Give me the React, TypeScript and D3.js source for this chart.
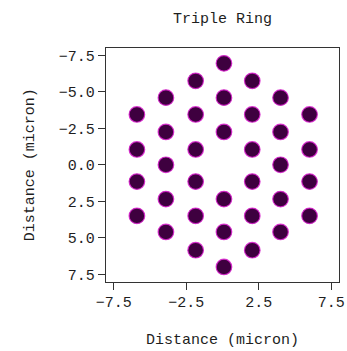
import React from "react";
import * as d3 from "d3";

// Dot centres (micron), row by row from the top of the plot
const dotX: number[] = [
  0.1,
  -1.85, 2.05,
  -3.9, 0.1, 4.0,
  -5.9, -1.85, 2.05, 6.0,
  -3.9, 0.1, 4.0,
  -5.9, -1.85, 2.05, 6.0,
  -3.9, 4.0,
  -5.9, -1.85, 2.05, 6.0,
  -3.9, 0.1, 4.0,
  -5.9, -1.85, 2.05, 6.0,
  -3.9, 0.1, 4.0,
  -1.85, 2.05,
  0.1,
];
const dotY: number[] = [
  -6.95,
  -5.75, -5.75,
  -4.6, -4.6, -4.6,
  -3.45, -3.45, -3.45, -3.45,
  -2.25, -2.25, -2.25,
  -1.05, -1.05, -1.05, -1.05,
  0.0, 0.0,
  1.15, 1.15, 1.15, 1.15,
  2.35, 2.35, 2.35,
  3.5, 3.5, 3.5, 3.5,
  4.6, 4.6, 4.6,
  5.85, 5.85,
  7.0,
];

const xTicks: number[] = [-7.5, -2.5, 2.5, 7.5];
const yTicks: number[] = [-7.5, -5.0, -2.5, 0.0, 2.5, 5.0, 7.5];

const title = "Triple Ring";
const xLabel = "Distance (micron)";
const yLabel = "Distance (micron)";

const W = 347;
const H = 351;
const plot = { left: 105.7, right: 339.3, top: 47.3, bottom: 282.3 };
const FONT = "'Liberation Mono', 'Courier New', monospace";
const TEXT = "#1e1e1e";

export default function App() {
  const x = d3.scaleLinear().domain([-8.05, 8.05]).range([plot.left, plot.right]);
  const y = d3.scaleLinear().domain([-8.05, 8.05]).range([plot.top, plot.bottom]);

  const fmt = d3.format(".1f");

  return (
    <svg
      width={W}
      height={H}
      style={{ position: "absolute", left: 0, top: 0, background: "#ffffff" }}
    >
      <text
        x={(plot.left + plot.right) / 2}
        y={23}
        textAnchor="middle"
        fontFamily={FONT}
        fontSize={15}
        fill={TEXT}
      >
        {title}
      </text>

      {/* frame */}
      <rect
        x={plot.left}
        y={plot.top}
        width={plot.right - plot.left}
        height={plot.bottom - plot.top}
        fill="#ffffff"
        stroke="#333333"
        strokeWidth={1}
        shapeRendering="crispEdges"
      />

      {/* dots */}
      <g>
        {dotX.map((dx, i) => (
          <circle
            key={i}
            cx={x(dx)}
            cy={y(dotY[i])}
            r={7.8}
            fill="#3e003f"
            stroke="#d81ccc"
            strokeOpacity={0.85}
            strokeWidth={1.2}
          />
        ))}
      </g>

      {/* x axis */}
      <g>
        {xTicks.map((t) => (
          <g key={t}>
            <line
              x1={x(t)}
              x2={x(t)}
              y1={plot.bottom}
              y2={plot.bottom + 8}
              stroke="#333333"
              strokeWidth={1}
              shapeRendering="crispEdges"
            />
            <text
              x={x(t)}
              y={plot.bottom + 25}
              textAnchor="middle"
              fontFamily={FONT}
              fontSize={15}
              fill={TEXT}
            >
              {fmt(t)}
            </text>
          </g>
        ))}
      </g>

      {/* y axis */}
      <g>
        {yTicks.map((t) => (
          <g key={t}>
            <line
              x1={plot.left - 7.5}
              x2={plot.left}
              y1={y(t)}
              y2={y(t)}
              stroke="#333333"
              strokeWidth={1}
              shapeRendering="crispEdges"
            />
            <text
              x={plot.left - 11}
              y={y(t)}
              dy="0.35em"
              textAnchor="end"
              fontFamily={FONT}
              fontSize={15}
              fill={TEXT}
            >
              {fmt(t)}
            </text>
          </g>
        ))}
      </g>

      <text
        x={(plot.left + plot.right) / 2}
        y={344}
        textAnchor="middle"
        fontFamily={FONT}
        fontSize={15}
        fill={TEXT}
      >
        {xLabel}
      </text>

      <text
        transform={`translate(34, ${(plot.top + plot.bottom) / 2}) rotate(-90)`}
        textAnchor="middle"
        fontFamily={FONT}
        fontSize={15}
        fill={TEXT}
      >
        {yLabel}
      </text>
    </svg>
  );
}
